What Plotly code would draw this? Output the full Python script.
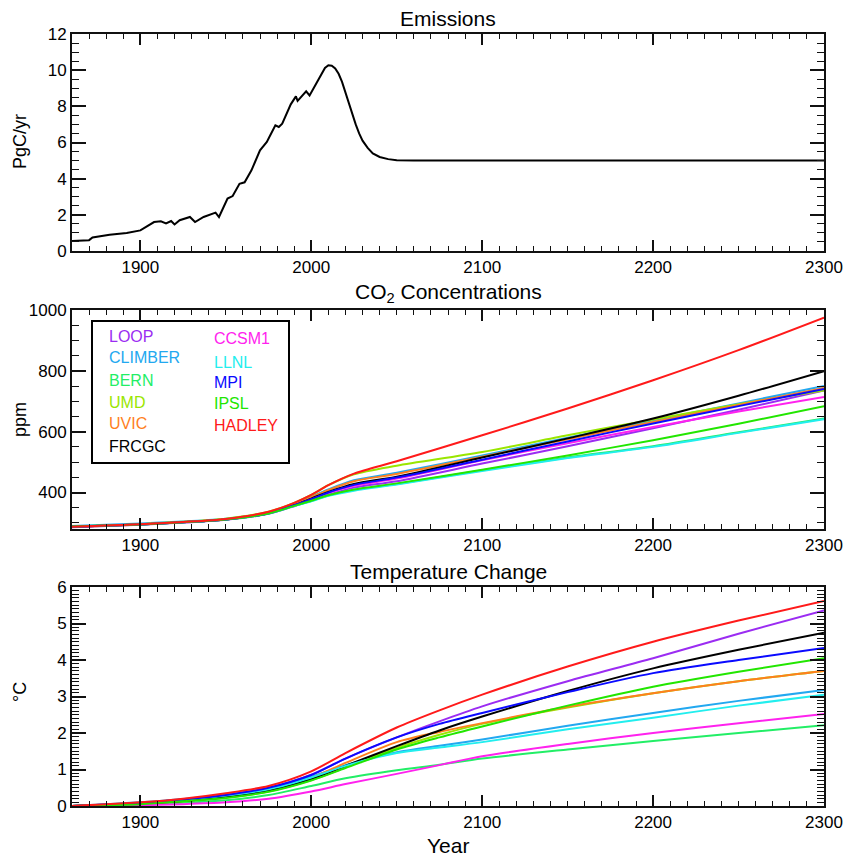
import plotly.graph_objects as go
from plotly.subplots import make_subplots

# ---------------- data ----------------
em_years = [1860, 1870, 1872, 1882, 1892, 1900, 1908, 1912, 1915, 1918, 1920, 1923,
            1929, 1932, 1937, 1944, 1946, 1948, 1951, 1954, 1958, 1961, 1965, 1970,
            1974, 1976, 1979, 1981, 1983, 1988, 1991, 1992, 1997, 1999, 2002, 2004,
            2006, 2008, 2010, 2012, 2014, 2016, 2018, 2020, 2022, 2024, 2026, 2028,
            2030, 2033, 2036, 2040, 2045, 2050, 2060, 2300]
em_vals = [0.55, 0.6, 0.75, 0.9, 1.0, 1.14, 1.6, 1.64, 1.53, 1.66, 1.47, 1.7,
           1.88, 1.6, 1.88, 2.12, 1.88, 2.3, 2.9, 3.04, 3.72, 3.8, 4.46, 5.57,
           6.03, 6.4, 6.95, 6.86, 7.04, 8.11, 8.55, 8.3, 8.83, 8.6, 9.1, 9.44,
           9.85, 10.12, 10.27, 10.25, 10.1, 9.8, 9.35, 8.75, 8.15, 7.55, 7.0, 6.5,
           6.1, 5.7, 5.4, 5.2, 5.08, 5.02, 5.0, 5.0]

models = ["LOOP", "CLIMBER", "BERN", "UMD", "UVIC", "FRCGC",
          "CCSM1", "LLNL", "MPI", "IPSL", "HADLEY"]
colors = ["#9b2cf2", "#22a8f0", "#22ee66", "#99e600", "#ff7f1e", "#000000",
          "#ff22ee", "#22eeee", "#0a0aff", "#22e600", "#ff1a1a"]

co2_years = [1860, 1900, 1925, 1950, 1975, 1990, 2000, 2010, 2025, 2050, 2100,
             2150, 2200, 2250, 2300]
co2_loop    = [286, 294, 301, 310, 330, 355, 374, 393, 416, 437, 495, 552, 611, 672, 735]
co2_climber = [290, 298, 305, 314, 335, 362, 386, 410, 440, 465, 522, 580, 637, 693, 750]
co2_bern    = [288, 295, 302, 311, 331, 356, 372, 390, 408, 428, 473, 515, 552, 598, 643]
co2_umd     = [288, 296, 304, 314, 337, 366, 392, 424, 460, 488, 533, 588, 640, 690, 735]
co2_uvic    = [287, 295, 303, 312, 334, 361, 384, 408, 437, 461, 518, 575, 632, 688, 744]
co2_frcgc   = [287, 295, 302, 311, 332, 358, 380, 402, 428, 452, 515, 578, 643, 718, 799]
co2_ccsm1   = [287, 295, 302, 311, 331, 357, 377, 398, 422, 446, 506, 562, 615, 666, 714]
co2_llnl    = [288, 295, 302, 311, 331, 356, 371, 389, 406, 426, 471, 513, 550, 596, 641]
co2_mpi     = [287, 295, 302, 311, 332, 358, 378, 400, 425, 449, 508, 568, 627, 684, 740]
co2_ipsl    = [288, 295, 302, 311, 331, 356, 373, 391, 410, 430, 475, 522, 572, 626, 684]
co2_hadley  = [287, 296, 303, 313, 337, 366, 392, 424, 462, 503, 588, 676, 769, 868, 975]

t_years = [1860, 1900, 1925, 1950, 1975, 2000, 2020, 2050, 2075, 2100, 2150, 2200,
           2250, 2300]
t_loop    = [0, 0.08, 0.18, 0.30, 0.50, 0.86, 1.30, 1.88, 2.32, 2.73, 3.42, 4.05, 4.72, 5.36]
t_climber = [0, 0.10, 0.19, 0.30, 0.48, 0.80, 1.12, 1.47, 1.65, 1.82, 2.20, 2.55, 2.88, 3.18]
t_bern    = [0, 0.04, 0.09, 0.16, 0.30, 0.55, 0.76, 0.98, 1.13, 1.30, 1.55, 1.78, 2.00, 2.21]
t_umd     = [0, 0.05, 0.13, 0.23, 0.40, 0.71, 1.06, 1.59, 1.95, 2.25, 2.70, 3.09, 3.42, 3.70]
t_uvic    = [0, 0.06, 0.15, 0.26, 0.44, 0.77, 1.18, 1.75, 2.03, 2.27, 2.72, 3.09, 3.42, 3.70]
t_frcgc   = [0, 0.06, 0.14, 0.24, 0.42, 0.74, 1.10, 1.64, 2.07, 2.45, 3.15, 3.77, 4.28, 4.75]
t_ccsm1   = [0, 0.02, 0.05, 0.10, 0.20, 0.40, 0.60, 0.88, 1.12, 1.36, 1.70, 2.00, 2.27, 2.52]
t_llnl    = [0, 0.09, 0.18, 0.29, 0.46, 0.78, 1.10, 1.45, 1.60, 1.75, 2.10, 2.42, 2.75, 3.05]
t_mpi     = [0, 0.08, 0.18, 0.30, 0.50, 0.85, 1.30, 1.88, 2.25, 2.55, 3.12, 3.64, 4.00, 4.33]
t_ipsl    = [0, 0.05, 0.13, 0.22, 0.39, 0.70, 1.04, 1.55, 1.88, 2.18, 2.75, 3.27, 3.68, 4.05]
t_hadley  = [0, 0.10, 0.20, 0.35, 0.55, 0.95, 1.45, 2.15, 2.62, 3.05, 3.82, 4.50, 5.08, 5.62]

co2_series = [co2_loop, co2_climber, co2_bern, co2_umd, co2_uvic, co2_frcgc,
              co2_ccsm1, co2_llnl, co2_mpi, co2_ipsl, co2_hadley]
t_series = [t_loop, t_climber, t_bern, t_umd, t_uvic, t_frcgc,
            t_ccsm1, t_llnl, t_mpi, t_ipsl, t_hadley]

x_ticks = [1900, 2000, 2100, 2200, 2300]

# ---------------- figure ----------------
W, H = 844, 857
ML, MR, MT, MB = 72, 20, 34, 51
PW, PH = W - ML - MR, H - MT - MB

def px(x):
    return (x - ML) / PW

def py(y):
    return (H - MB - y) / PH

fig = make_subplots(rows=3, cols=1, shared_xaxes=False, vertical_spacing=0.0)
dom1 = [py(251), 1.0]
dom2 = [py(529), py(310)]
dom3 = [0.0, py(587)]

fig.add_trace(go.Scatter(x=em_years, y=em_vals, mode="lines",
                         line=dict(color="black", width=2), showlegend=False),
              row=1, col=1)
for name, col, ys in zip(models, colors, co2_series):
    fig.add_trace(go.Scatter(x=co2_years, y=ys, mode="lines", name=name,
                             line=dict(color=col, width=2, shape="spline", smoothing=0.8),
                             showlegend=False), row=2, col=1)
for name, col, ys in zip(models, colors, t_series):
    fig.add_trace(go.Scatter(x=t_years, y=ys, mode="lines", name=name,
                             line=dict(color=col, width=2, shape="spline", smoothing=0.8),
                             showlegend=False), row=3, col=1)

FONT = "Liberation Sans, Arial, sans-serif"
axis_common = dict(showline=True, linecolor="#111", linewidth=2, mirror="ticks",
                   ticks="inside", tickcolor="#111", tickwidth=1.5,
                   showgrid=False, zeroline=False, automargin=False,
                   tickfont=dict(family=FONT, size=17, color="black"))

for i, dom in zip([1, 2, 3], [dom1, dom2, dom3]):
    fig.update_xaxes(range=[1860, 2300], tickvals=x_ticks, ticklen=11,
                     minor=dict(dtick=10, tick0=1860, ticklen=5, ticks="inside",
                                tickcolor="#111", tickwidth=1.2),
                     row=i, col=1, **axis_common)
    fig.update_yaxes(domain=dom, row=i, col=1)

fig.update_yaxes(range=[0, 12], tickvals=[0, 2, 4, 6, 8, 10, 12], ticklen=14,
                 minor=dict(dtick=0.5, ticklen=7, ticks="inside", tickcolor="#111",
                            tickwidth=1.2),
                 row=1, col=1, **axis_common)
fig.update_yaxes(range=[280, 1000], tickvals=[400, 600, 800, 1000], ticklen=14,
                 minor=dict(dtick=50, ticklen=7, ticks="inside", tickcolor="#111",
                            tickwidth=1.2),
                 row=2, col=1, **axis_common)
fig.update_yaxes(range=[0, 6], tickvals=[0, 1, 2, 3, 4, 5, 6], ticklen=14,
                 minor=dict(dtick=0.1, ticklen=7, ticks="inside", tickcolor="#111",
                            tickwidth=1.2),
                 row=3, col=1, **axis_common)

ann = []
titles = [("Emissions", 34), ("CO<sub>2</sub> Concentrations", 310),
          ("Temperature Change", 587)]
for text, top in titles:
    ann.append(dict(text=text, x=px(448), y=py(top), xref="paper", yref="paper",
                    xanchor="center", yanchor="bottom", yshift=2, showarrow=False,
                    font=dict(family=FONT, size=21, color="black")))

for text, yc in [("PgC/yr", 142), ("ppm", 420), ("°C", 692)]:
    ann.append(dict(text=text, x=px(20), y=py(yc), xref="paper", yref="paper",
                    xanchor="center", yanchor="middle", textangle=-90, showarrow=False,
                    font=dict(family=FONT, size=18, color="black")))

ann.append(dict(text="Year", x=px(448), y=py(845), xref="paper", yref="paper",
                xanchor="center", yanchor="middle", showarrow=False,
                font=dict(family=FONT, size=21, color="black")))

# legend (coloured text in a box)
leg_pos = {
    "LOOP": (107, 337), "CLIMBER": (107, 357), "BERN": (107, 380),
    "UMD": (107, 402), "UVIC": (107, 423), "FRCGC": (107, 446),
    "CCSM1": (212, 339), "LLNL": (212, 363), "MPI": (212, 382),
    "IPSL": (212, 403), "HADLEY": (212, 425),
}
for name, col in zip(models, colors):
    lx, ly = leg_pos[name]
    ann.append(dict(text=name, x=px(lx), y=py(ly), xref="paper", yref="paper",
                    xanchor="left", yanchor="middle", showarrow=False,
                    font=dict(family=FONT, size=16, color=col)))

fig.update_layout(
    width=W, height=H,
    margin=dict(l=ML, r=MR, t=MT, b=MB, autoexpand=False),
    paper_bgcolor="white", plot_bgcolor="white",
    annotations=ann,
    shapes=[dict(type="rect", xref="paper", yref="paper",
                 x0=px(92), x1=px(289), y0=py(463), y1=py(321),
                 line=dict(color="black", width=2), fillcolor="white", layer="below")],
    showlegend=False,
)

fig.write_html("out.html",
               config={"displayModeBar": False},
               post_script="document.body.style.margin='0px';"
                           "document.body.style.overflow='hidden';")
